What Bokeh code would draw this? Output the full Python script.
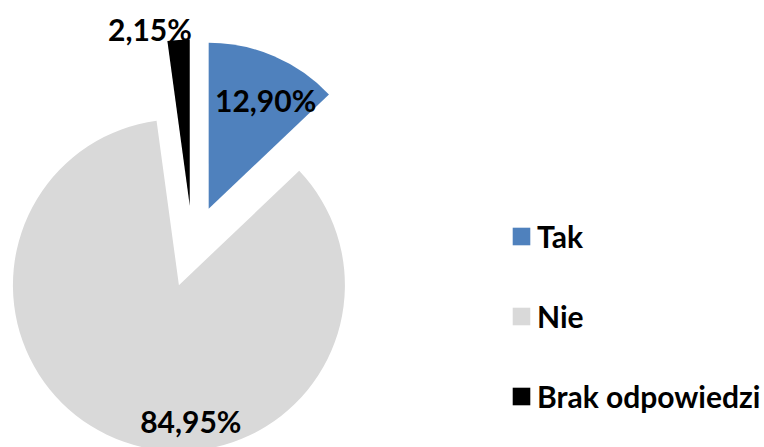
import math
from bokeh.plotting import figure
from bokeh.models import ColumnDataSource, Range1d, Legend, LegendItem
from bokeh.core.properties import value
from bokeh.embed import file_html
from bokeh.resources import INLINE

# ---- data ----
categories = ["Tak", "Nie", "Brak odpowiedzi"]
shares = [12.90, 84.95, 2.15]
pct_labels = ["12,90%", "84,95%", "2,15%"]
colors = ["#4F81BD", "#D9D9D9", "#000000"]

# ---- layout/style ----
W, H = 764, 447
CX, CY = 192, 201          # pie centre (data units == px)
R = 166                    # radius
EXPLODE = 41               # explosion distance
# label placement: (angle from 12 o'clock clockwise in deg, distance from slice apex)
label_polar = [(27.6, 123), (175.0, 136), (-12.7, 181)]

total = sum(shares)
starts, ends, xs, ys, lx, ly = [], [], [], [], [], []
acc = 0.0
for s, (la, ld) in zip(shares, label_polar):
    a0 = acc / total * 2 * math.pi
    a1 = (acc + s) / total * 2 * math.pi
    mid = (a0 + a1) / 2
    ox = CX + EXPLODE * math.sin(mid)
    oy = CY + EXPLODE * math.cos(mid)
    xs.append(ox)
    ys.append(oy)
    # bokeh angles: anticlockwise from +x
    starts.append(math.pi / 2 - a1)
    ends.append(math.pi / 2 - a0)
    lx.append(ox + ld * math.sin(math.radians(la)))
    ly.append(oy + ld * math.cos(math.radians(la)))
    acc += s

src = ColumnDataSource(dict(x=xs, y=ys, start=starts, end=ends, color=colors,
                            cat=categories, lab=pct_labels, lx=lx, ly=ly))

p = figure(width=W, height=H, output_backend="svg", toolbar_location=None,
           x_range=Range1d(0, W), y_range=Range1d(0, H), min_border=0,
           outline_line_color=None)
p.axis.visible = False
p.grid.visible = False

r = p.wedge(x="x", y="y", radius=R, start_angle="start", end_angle="end",
            fill_color="color", line_color=None, source=src)

p.text(x="lx", y="ly", text="lab", source=src, text_align="center",
       text_baseline="middle", text_font=value("Lato"), text_font_style="bold",
       text_font_size="30px", text_color="black")

items = [LegendItem(label=c, renderers=[r], index=i) for i, c in enumerate(categories)]
legend = Legend(items=items, location=(510, 31), orientation="vertical",
                glyph_width=22, glyph_height=22, label_standoff=5,
                label_text_font="Lato", label_text_font_style="bold",
                label_text_font_size="30px", label_text_color="black",
                label_height=40, spacing=40,
                padding=0, margin=0, border_line_color=None,
                background_fill_alpha=0)
p.add_layout(legend)

open("out.html", "w").write(file_html(p, INLINE))
